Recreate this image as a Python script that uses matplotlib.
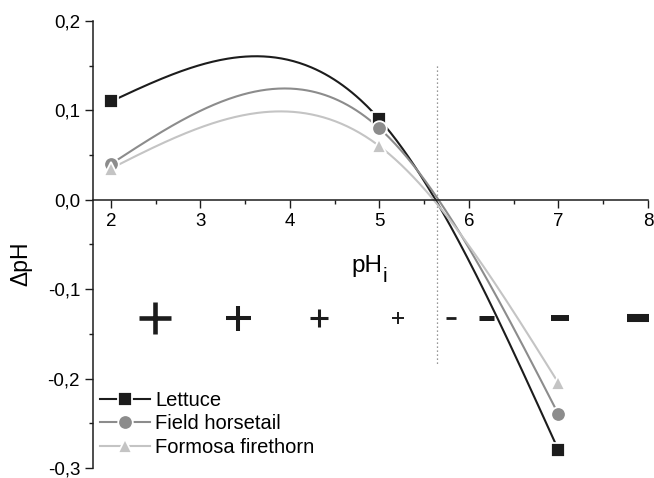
import matplotlib.pyplot as plt
import numpy as np
from matplotlib.lines import Line2D
from matplotlib.ticker import FuncFormatter, MultipleLocator

plt.rcParams["font.family"] = ["Liberation Sans", "DejaVu Sans"]

# initial pH and the measured change for each adsorbent
ph_i = np.array([2.0, 5.0, 7.0])
lettuce = np.array([0.11, 0.09, -0.28])
horsetail = np.array([0.04, 0.08, -0.24])
firethorn = np.array([0.035, 0.06, -0.205])

names = ["Lettuce", "Field horsetail", "Formosa firethorn"]
colors = ["#1c1c1c", "#8c8c8c", "#c4c4c4"]
markers = ["s", "o", "^"]
msizes = [9.5, 10.5, 10.5]

# point of zero charge and the surface-charge signs either side of it
pzc = 5.64
sign_x = [2.49, 3.42, 4.32, 5.21, 5.80, 6.19, 7.02, 7.89]
sign_kind = ["+", "+", "+", "+", "_", "_", "_", "_"]
sign_size = [23, 18, 13, 8.6, 6.5, 10.8, 13, 16.5]
sign_width = [3.3, 2.9, 2.2, 1.4, 2.0, 3.6, 4.3, 5.8]
sign_y = -0.132


def natural_spline(x, y, num=300):
    """Natural cubic spline through the points, like Origin's spline connector."""
    n = len(x)
    h = np.diff(x)
    a = np.zeros((n, n))
    rhs = np.zeros(n)
    a[0, 0] = a[-1, -1] = 1.0
    for i in range(1, n - 1):
        a[i, i - 1] = h[i - 1]
        a[i, i] = 2 * (h[i - 1] + h[i])
        a[i, i + 1] = h[i]
        rhs[i] = 6 * ((y[i + 1] - y[i]) / h[i] - (y[i] - y[i - 1]) / h[i - 1])
    m = np.linalg.solve(a, rhs)
    xs = np.linspace(x[0], x[-1], num)
    k = np.clip(np.searchsorted(x, xs) - 1, 0, n - 2)
    x0, x1, hk = x[k], x[k + 1], h[k]
    ys = (m[k] * (x1 - xs) ** 3 + m[k + 1] * (xs - x0) ** 3) / (6 * hk)
    ys += (y[k] / hk - m[k] * hk / 6) * (x1 - xs)
    ys += (y[k + 1] / hk - m[k + 1] * hk / 6) * (xs - x0)
    return xs, ys


fig = plt.figure(figsize=(6.54, 4.78), dpi=100)
ax = fig.add_axes([0.1422, 0.021, 0.8486, 0.935])

handles = []
for name, vals, col, mk, ms in zip(names, [lettuce, horsetail, firethorn], colors, markers, msizes):
    xs, ys = natural_spline(ph_i, vals)
    ax.plot(xs, ys, color=col, lw=1.5, zorder=2)
    ax.plot(ph_i, vals, ls="none", marker=mk, ms=ms, mfc=col, mec="white", mew=1.3, zorder=3)
    handles.append(Line2D([], [], color=col, lw=1.5, marker=mk, ms=ms, mfc=col, mec="white", mew=1.3))

ax.plot([pzc, pzc], [0.15, -0.186], color="#777777", lw=0.9, dashes=(1, 2.2), zorder=1)

for x, kind, size, width in zip(sign_x, sign_kind, sign_size, sign_width):
    ax.plot(x, sign_y, ls="none", marker=kind, ms=size, mew=width, color="#1c1c1c")

ax.set_xlim(1.8, 8.0)
ax.set_ylim(-0.3, 0.2)

for side in ["top", "right"]:
    ax.spines[side].set_visible(False)
ax.spines["bottom"].set_position(("data", 0))
ax.spines["left"].set_bounds(-0.3, 0.2)
for side in ["left", "bottom"]:
    ax.spines[side].set_linewidth(1.1)
    ax.spines[side].set_color("#1c1c1c")

ax.xaxis.set_major_locator(MultipleLocator(1))
ax.xaxis.set_minor_locator(MultipleLocator(0.5))
ax.yaxis.set_major_locator(MultipleLocator(0.1))
ax.yaxis.set_minor_locator(MultipleLocator(0.05))
ax.yaxis.set_major_formatter(FuncFormatter(lambda v, _: f"{round(v, 1) + 0.0:.1f}".replace(".", ",")))
ax.xaxis.set_major_formatter(FuncFormatter(lambda v, _: f"{v:.0f}"))

ax.tick_params(which="major", direction="out", length=5.8, width=1.0, labelsize=13.5, color="#1c1c1c")
ax.tick_params(which="minor", direction="out", length=3.0, width=1.0, color="#1c1c1c")
ax.tick_params(axis="y", pad=3.5)
ax.tick_params(axis="x", pad=4)

ax.set_ylabel("ΔpH", fontsize=16.5, labelpad=0)
ax.yaxis.set_label_coords(-0.11, 0.458)
ax.text(4.69, -0.081, "pH", fontsize=17.5, ha="left", va="baseline")
ax.text(5.04, -0.092, "i", fontsize=15, ha="left", va="baseline")

ax.legend(handles, names, loc="lower left", bbox_to_anchor=(0.012, 0.025), frameon=False,
          fontsize=14.5, handlelength=2.5, handletextpad=0.25, labelspacing=0.22,
          borderpad=0, borderaxespad=0)

fig.savefig("out.png", dpi=100)
